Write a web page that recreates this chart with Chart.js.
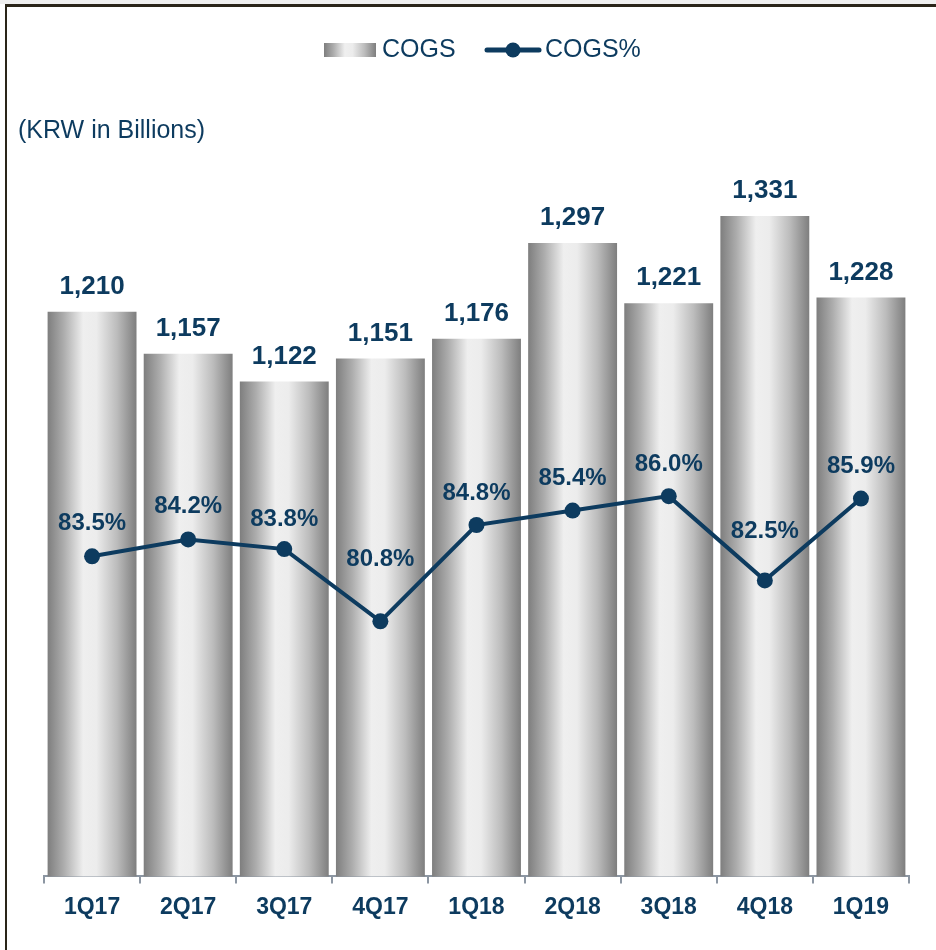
<!DOCTYPE html>
<html>
<head>
<meta charset="utf-8">
<script src="https://cdn.jsdelivr.net/npm/chart.js@4/dist/chart.umd.min.js"></script>
<style>
  html, body { margin: 0; padding: 0; background: #ffffff; }
  #wrap { width: 936px; height: 950px; position: relative; }
</style>
</head>
<body>
<div id="wrap"><canvas id="c" width="936" height="950"></canvas></div>
<script>
// ---- data ----
const categories = ['1Q17', '2Q17', '3Q17', '4Q17', '1Q18', '2Q18', '3Q18', '4Q18', '1Q19'];
const cogsValues = [1210, 1157, 1122, 1151, 1176, 1297, 1221, 1331, 1228];
const cogsPctValues = [83.5, 84.2, 83.8, 80.8, 84.8, 85.4, 86.0, 82.5, 85.9];
const seriesNames = ['COGS', 'COGS%'];
const unitLabel = '(KRW in Billions)';

// ---- styles ----
const NAVY = '#0d3b5f';
const AXIS = '#8c96a2';
const FONT = '"Liberation Sans", Arial, sans-serif';
const pctLabelOffsets = [33, 33, 30, 62, 32, 32, 32, 49, 32];

function barGradient(ctx, x0, x1) {
  const g = ctx.createLinearGradient(x0, 0, x1, 0);
  g.addColorStop(0.00, '#7e7e7e');
  g.addColorStop(0.18, '#acacac');
  g.addColorStop(0.40, '#efefef');
  g.addColorStop(0.55, '#ececec');
  g.addColorStop(0.78, '#bcbcbc');
  g.addColorStop(1.00, '#7e7e7e');
  return g;
}

const fmtInt = v => v.toLocaleString('en-US');
const fmtPct = v => v.toFixed(1) + '%';

const decorPlugin = {
  id: 'decor',
  beforeDraw(chart) {
    const ctx = chart.ctx;
    ctx.save();
    ctx.fillStyle = '#ffffff';
    ctx.fillRect(0, 0, chart.width, chart.height);
    ctx.fillStyle = '#efefef';
    ctx.fillRect(0, 0, chart.width, 4);
    ctx.fillStyle = '#2a2519';
    ctx.fillRect(5, 4, chart.width - 5, 3);
    ctx.fillRect(5, 4, 2, chart.height - 4);
    ctx.restore();
  },
  afterDatasetsDraw(chart) {
    const ctx = chart.ctx;
    ctx.save();
    ctx.fillStyle = NAVY;
    ctx.textAlign = 'center';
    ctx.textBaseline = 'middle';
    // bar value labels
    const barMeta = chart.getDatasetMeta(1);
    ctx.font = 'bold 26px ' + FONT;
    barMeta.data.forEach((el, i) => {
      ctx.fillText(fmtInt(cogsValues[i]), el.x, el.y - 25);
    });
    // line labels
    const lineMeta = chart.getDatasetMeta(0);
    ctx.font = 'bold 24px ' + FONT;
    lineMeta.data.forEach((el, i) => {
      ctx.fillText(fmtPct(cogsPctValues[i]), el.x, el.y - pctLabelOffsets[i]);
    });
    ctx.restore();
  },
  afterDraw(chart) {
    const ctx = chart.ctx;
    ctx.save();
    ctx.fillStyle = NAVY;
    ctx.textBaseline = 'middle';
    ctx.textAlign = 'left';
    // unit label
    ctx.font = '25px ' + FONT;
    ctx.fillText(unitLabel, 18, 131);
    // legend
    const ly = 50;
    ctx.fillStyle = barGradient(ctx, 324, 376);
    ctx.fillRect(324, 43, 52, 14);
    ctx.fillStyle = NAVY;
    ctx.font = '25px ' + FONT;
    ctx.fillText(seriesNames[0], 382, ly);
    ctx.strokeStyle = NAVY;
    ctx.lineWidth = 5;
    ctx.lineCap = 'round';
    ctx.beginPath();
    ctx.moveTo(487, ly);
    ctx.lineTo(539, ly);
    ctx.stroke();
    ctx.beginPath();
    ctx.arc(513, ly, 7.5, 0, Math.PI * 2);
    ctx.fill();
    ctx.fillText(seriesNames[1], 545, ly);
    ctx.restore();
  }
};

const BAR_FRACTION = 0.925;

new Chart(document.getElementById('c'), {
  type: 'bar',
  data: {
    labels: categories,
    datasets: [
      {
        type: 'line',
        label: seriesNames[1],
        data: cogsPctValues,
        yAxisID: 'y2',
        borderColor: NAVY,
        borderWidth: 4,
        pointRadius: 8,
        pointHoverRadius: 8,
        pointBackgroundColor: NAVY,
        pointBorderColor: NAVY,
        pointBorderWidth: 0,
        tension: 0,
        order: 0
      },
      {
        type: 'bar',
        label: seriesNames[0],
        data: cogsValues,
        yAxisID: 'y',
        barPercentage: BAR_FRACTION,
        categoryPercentage: 1,
        borderWidth: 0,
        order: 1,
        backgroundColor: (c) => {
          const chart = c.chart;
          if (!chart.chartArea || !chart.scales.x) return '#c0c0c0';
          const xs = chart.scales.x;
          const cx = xs.getPixelForValue(c.dataIndex);
          const w = (xs.width / categories.length) * BAR_FRACTION;
          return barGradient(chart.ctx, cx - w / 2, cx + w / 2);
        }
      }
    ]
  },
  options: {
    responsive: false,
    animation: false,
    devicePixelRatio: 1,
    layout: { padding: { left: 44, right: 27, top: 87, bottom: 19 } },
    plugins: {
      legend: { display: false },
      tooltip: { enabled: false },
      title: { display: false }
    },
    scales: {
      x: {
        offset: true,
        grid: {
          display: true,
          drawOnChartArea: false,
          drawTicks: true,
          tickLength: 7,
          color: AXIS,
          lineWidth: 2,
          offset: true
        },
        border: { display: true, color: AXIS, width: 2 },
        ticks: {
          color: NAVY,
          padding: 10,
          font: { family: FONT, size: 23, weight: 'bold' }
        }
      },
      y: { display: false, min: 497, max: 1494 },
      y2: { display: false, min: 70.2, max: 103, position: 'right' }
    }
  },
  plugins: [decorPlugin]
});
</script>
</body>
</html>
